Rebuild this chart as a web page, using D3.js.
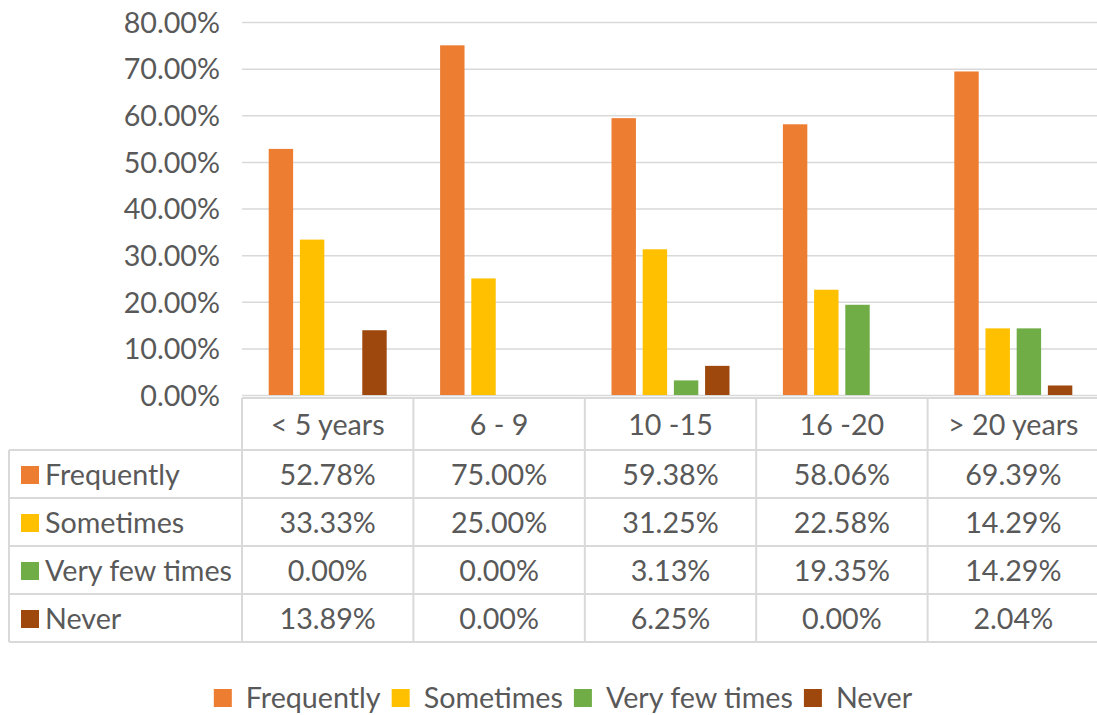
<!DOCTYPE html>
<html><head><meta charset="utf-8">
<script src="https://cdn.jsdelivr.net/npm/d3@7"></script>
<style>
html,body{margin:0;padding:0;background:#fff;}
svg text{font-family:Lato, "Open Sans", sans-serif;fill:#595959;}
</style></head>
<body><svg id="chart" width="1097" height="715"></svg>
<script>
const categories = ["< 5 years", "6 - 9", "10 -15", "16 -20", "> 20 years"];
const seriesNames = ["Frequently", "Sometimes", "Very few times", "Never"];
const frequently = [0.5278, 0.75, 0.5938, 0.5806, 0.6939];
const sometimes = [0.3333, 0.25, 0.3125, 0.2258, 0.1429];
const veryFew = [0.0, 0.0, 0.0313, 0.1935, 0.1429];
const never = [0.1389, 0.0, 0.0625, 0.0, 0.0204];
const colors = ["#ED7D31", "#FFC000", "#70AD47", "#9E480E"];
const yTicks = [0, 0.1, 0.2, 0.3, 0.4, 0.5, 0.6, 0.7, 0.8];

const seriesValues = [frequently, sometimes, veryFew, never];
const svg = d3.select("#chart");
const FS = 28.7;
const plot = {left: 242, right: 1099, top: 22, bottom: 395};

const x0 = d3.scaleBand().domain(categories).range([plot.left, plot.right]).paddingInner(0).paddingOuter(0);
const x1 = d3.scaleBand().domain(seriesNames).range([0, x0.bandwidth()]).paddingInner(0.217).paddingOuter(0.856);
const y = d3.scaleLinear().domain([0, 0.8]).range([plot.bottom, plot.top]);

// gridlines
const grid = svg.append("g").attr("transform", `translate(${plot.left},0)`)
  .call(d3.axisLeft(y).tickValues(yTicks).tickSize(-(plot.right - plot.left)).tickFormat(""));
grid.select(".domain").remove();
grid.selectAll("line").attr("stroke", "#d9d9d9").attr("stroke-width", 1.5);

// y labels
const yAxis = svg.append("g").attr("transform", `translate(220,0)`)
  .call(d3.axisLeft(y).tickValues(yTicks).tickSize(0).tickPadding(0).tickFormat(d3.format(".2%")));
yAxis.select(".domain").remove();
yAxis.selectAll("text").style("font-size", FS + "px").attr("fill", "#595959").attr("dy", "0.36em").style("font-family", "Lato");

// bars
const groups = svg.append("g").selectAll("g").data(categories).join("g")
  .attr("transform", d => `translate(${x0(d)},0)`);
groups.selectAll("rect").data((c, i) => seriesNames.map((s, j) => ({s, j, v: seriesValues[j][i]})))
  .join("rect")
  .attr("x", d => x1(d.s)).attr("width", x1.bandwidth())
  .attr("y", d => y(d.v)).attr("height", d => y(0) - y(d.v))
  .attr("fill", d => colors[d.j]);

// data table
const tbl = {top: 398, headerBottom: 450, rowH: 48, left: 9};
const lineColor = "#d9d9d9";
const t = svg.append("g");
const rowsBottom = tbl.headerBottom + tbl.rowH * seriesNames.length;
t.append("line").attr("x1", plot.left).attr("x2", plot.right).attr("y1", tbl.top).attr("y2", tbl.top);
for (let r = 0; r <= seriesNames.length; r++) {
  const yy = tbl.headerBottom + r * tbl.rowH;
  t.append("line").attr("x1", tbl.left).attr("x2", plot.right).attr("y1", yy).attr("y2", yy);
}
t.append("line").attr("x1", tbl.left).attr("x2", tbl.left).attr("y1", tbl.headerBottom).attr("y2", rowsBottom);
categories.forEach(c => {
  t.append("line").attr("x1", x0(c)).attr("x2", x0(c)).attr("y1", tbl.top).attr("y2", rowsBottom);
});
t.append("line").attr("x1", plot.right).attr("x2", plot.right).attr("y1", tbl.top).attr("y2", rowsBottom);
t.selectAll("line").attr("stroke", lineColor).attr("stroke-width", 2);

categories.forEach(c => {
  t.append("text").attr("x", x0(c) + x0.bandwidth() / 2).attr("y", (tbl.top + tbl.headerBottom) / 2 + 1)
    .attr("dy", "0.36em").attr("text-anchor", "middle").style("font-size", FS + "px").text(c);
});
const fmt = d3.format(".2%");
seriesNames.forEach((s, j) => {
  const cy = tbl.headerBottom + j * tbl.rowH + tbl.rowH / 2 + 1;
  t.append("rect").attr("x", 21).attr("y", cy - 9).attr("width", 18).attr("height", 18).attr("fill", colors[j]);
  t.append("text").attr("x", 45).attr("y", cy).attr("dy", "0.36em").style("font-size", FS + "px").text(s);
  categories.forEach((c, i) => {
    t.append("text").attr("x", x0(c) + x0.bandwidth() / 2).attr("y", cy).attr("dy", "0.36em")
      .attr("text-anchor", "middle").style("font-size", FS + "px").text(fmt(seriesValues[j][i]));
  });
});

// legend
const leg = svg.append("g");
let lx = 0;
seriesNames.forEach((s, j) => {
  const g = leg.append("g");
  g.append("rect").attr("x", 0).attr("y", -9).attr("width", 18).attr("height", 18).attr("fill", colors[j]);
  const tx = g.append("text").attr("x", 32).attr("y", 0).attr("dy", "0.36em").style("font-size", FS + "px").text(s);
  const w = 32 + tx.node().getComputedTextLength();
  g.attr("transform", `translate(${lx},0)`);
  lx += w + 11;
});
const totalW = lx - 11;
leg.attr("transform", `translate(${(208 + 918) / 2 - totalW / 2},698)`);
</script></body></html>
